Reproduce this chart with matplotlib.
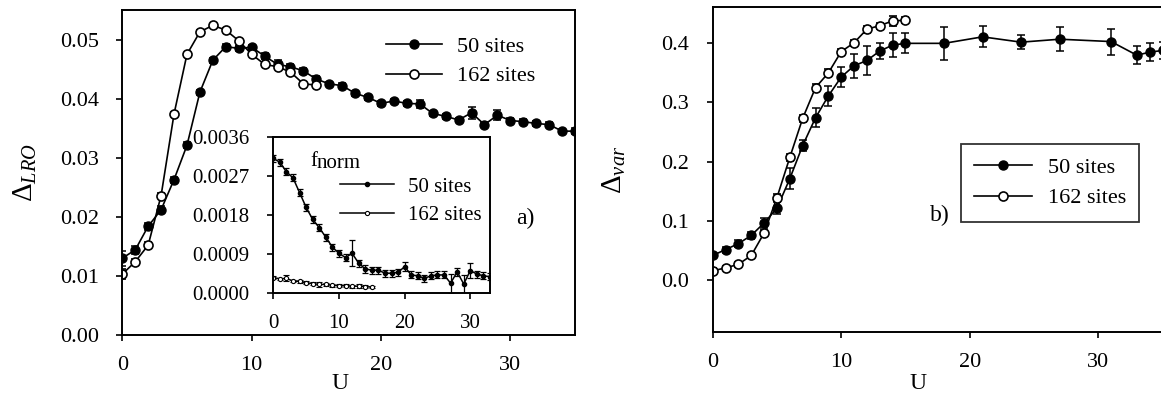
import numpy as np
import matplotlib
matplotlib.use("Agg")
import matplotlib.pyplot as plt

plt.rcParams['font.family'] = ['Liberation Serif', 'DejaVu Serif']
plt.rcParams['mathtext.fontset'] = 'custom'
plt.rcParams['mathtext.rm'] = 'Liberation Serif'
plt.rcParams['mathtext.it'] = 'Liberation Serif:italic'

# panel a) Delta_LRO vs U
u50_a = list(range(36))
lro50 = [0.0130, 0.0144, 0.0184, 0.0212, 0.0263, 0.0321, 0.0411, 0.0465, 0.0488, 0.0485,
         0.0487, 0.0472, 0.0458, 0.0454, 0.0447, 0.0433, 0.0425, 0.0422, 0.0409, 0.0402,
         0.0392, 0.0396, 0.0392, 0.0391, 0.0375, 0.0370, 0.0364, 0.0376, 0.0356, 0.0372,
         0.0363, 0.0361, 0.0358, 0.0356, 0.0345, 0.0345]
lro50_err = [0.0013, 0.0007, 0.0006, 0.0006, 0.0005, 0.0005, 0.0004, 0.0004, 0.0004, 0.0004,
             0.0004, 0.0005, 0.0008, 0.0005, 0.0005, 0.0005, 0.0004, 0.0004, 0.0004, 0.0004,
             0.0004, 0.0004, 0.0004, 0.0006, 0.0004, 0.0004, 0.0004, 0.0010, 0.0004, 0.0008,
             0.0004, 0.0004, 0.0004, 0.0004, 0.0004, 0.0005]
u162_a = list(range(16))
lro162 = [0.0103, 0.0124, 0.0152, 0.0236, 0.0374, 0.0475, 0.0513, 0.0524, 0.0516, 0.0498,
          0.0475, 0.0458, 0.0454, 0.0445, 0.0425, 0.0423]
lro162_err = [0.0008, 0.0005, 0.0005, 0.0004, 0.0003, 0.0003, 0.0003, 0.0003, 0.0003, 0.0003,
              0.0003, 0.0003, 0.0003, 0.0003, 0.0003, 0.0003]

# inset: f_norm vs U
u50_f = list(range(34))
f50 = [0.00310, 0.00301, 0.00279, 0.00265, 0.00231, 0.00197, 0.00169, 0.00150, 0.00128, 0.00105,
       0.00091, 0.00081, 0.00091, 0.00068, 0.00055, 0.00052, 0.00052, 0.00045, 0.00045, 0.00047,
       0.00060, 0.00041, 0.00039, 0.00033, 0.00039, 0.00041, 0.00041, 0.00022, 0.00048, 0.00020,
       0.00051, 0.00043, 0.00039, 0.00037]
f50_err = [0.00008, 0.00008, 0.00008, 0.00008, 0.00008, 0.00008, 0.00008, 0.00008, 0.00008, 0.00008,
           0.00008, 0.00008, 0.00030, 0.00008, 0.00010, 0.00008, 0.00008, 0.00008, 0.00008, 0.00008,
           0.00010, 0.00008, 0.00008, 0.00008, 0.00008, 0.00008, 0.00008, 0.00022, 0.00010, 0.00022,
           0.00018, 0.00008, 0.00008, 0.00008]
u162_f = list(range(16))
f162 = [0.00035, 0.00032, 0.00033, 0.00027, 0.00026, 0.00023, 0.00021, 0.00019, 0.00019, 0.00017,
        0.00016, 0.00016, 0.00015, 0.00015, 0.00014, 0.00013]
f162_err = [0.00003, 0.00003, 0.00007, 0.00003, 0.00003, 0.00003, 0.00003, 0.00005, 0.00003, 0.00003,
            0.00003, 0.00003, 0.00003, 0.00005, 0.00003, 0.00003]

# panel b) Delta_var vs U
u50_b = [0, 1, 2, 3, 4, 5, 6, 7, 8, 9, 10, 11, 12, 13, 14, 15, 18, 21, 24, 27, 31, 33, 34, 35]
var50 = [0.041, 0.051, 0.061, 0.075, 0.096, 0.121, 0.171, 0.227, 0.274, 0.311, 0.343, 0.362,
         0.371, 0.387, 0.397, 0.400, 0.400, 0.411, 0.402, 0.407, 0.403, 0.380, 0.385, 0.388]
var50_err = [0.005, 0.005, 0.006, 0.006, 0.008, 0.010, 0.018, 0.010, 0.016, 0.017, 0.017, 0.020,
             0.024, 0.013, 0.020, 0.017, 0.028, 0.018, 0.012, 0.020, 0.022, 0.015, 0.015, 0.015]
u162_b = list(range(16))
var162 = [0.015, 0.020, 0.026, 0.041, 0.079, 0.139, 0.207, 0.273, 0.325, 0.350, 0.386, 0.401,
          0.424, 0.430, 0.438, 0.439]
var162_err = [0.004, 0.004, 0.004, 0.004, 0.005, 0.006, 0.006, 0.006, 0.006, 0.006, 0.005, 0.005,
              0.006, 0.005, 0.009, 0.005]

W, H = 1161, 394
fig = plt.figure(figsize=(W / 100, H / 100), dpi=100)


def frac(x0, y0, x1, y1):
    return [x0 / W, 1 - y1 / H, (x1 - x0) / W, (y1 - y0) / H]


def style(ax, fs, pad_x, pad_y):
    for s in ax.spines.values():
        s.set_linewidth(1.4)
    ax.tick_params(direction='out', length=4, width=1.2, labelsize=fs, top=False, right=False)
    ax.tick_params(axis='x', pad=pad_x)
    ax.tick_params(axis='y', pad=pad_y)


eb = dict(color='black', lw=1.2, elinewidth=1.1, capsize=3, capthick=1.1)

# ---------- panel a ----------
ax1 = fig.add_axes(frac(122.3, 10, 575, 335))
ax1.errorbar(u50_a, lro50, yerr=lro50_err, fmt='-o', ms=6.5, mfc='black', mec='black',
             label='50 sites', **eb)
ax1.errorbar(u162_a, lro162, yerr=lro162_err, fmt='-o', ms=6.5, mfc='white', mec='black',
             mew=1.2, label='162 sites', **eb)
ax1.set_xlim(0, 35)
ax1.set_ylim(0, 0.055)
ax1.set_xticks([0, 10, 20, 30])
ax1.set_yticks([0.0, 0.01, 0.02, 0.03, 0.04, 0.05])
ax1.set_yticklabels(['0.00', '0.01', '0.02', '0.03', '0.04', '0.05'])
style(ax1, 16, 11, 13)
ax1.set_xlabel('U', fontsize=17)
ax1.xaxis.set_label_coords((340 - 122.3) / 452.7, (335 - 373) / 325)
ax1.set_ylabel(r'$\mathit{\Delta}_{\mathit{LRO}}$', fontsize=21, labelpad=15)
h, l = ax1.get_legend_handles_labels()
h = [x[0] for x in h]
ax1.legend(h, l, loc='upper left', bbox_to_anchor=(386 / W, 1 - 36 / H),
           bbox_transform=fig.transFigure, frameon=False, fontsize=16,
           handlelength=2.5, handletextpad=0.7, borderpad=0, borderaxespad=0,
           labelspacing=0.42)
ax1.text(525, 394 - 218, 'a)', transform=None, fontsize=17, ha='center', va='center')

# ---------- inset ----------
axi = fig.add_axes(frac(273.3, 136.7, 490, 292.7))
axi.errorbar(u50_f, f50, yerr=f50_err, fmt='-o', ms=3, mfc='black', mec='black',
             label='50 sites', color='black', lw=1.1, elinewidth=0.9, capsize=2, capthick=0.9)
axi.errorbar(u162_f, f162, yerr=f162_err, fmt='-o', ms=3, mfc='white', mec='black', mew=0.8,
             label='162 sites', color='black', lw=1.1, elinewidth=0.9, capsize=2, capthick=0.9)
axi.set_xlim(0, 33)
axi.set_ylim(0, 0.0036)
axi.set_xticks([0, 10, 20, 30])
axi.set_yticks([0, 0.0009, 0.0018, 0.0027, 0.0036])
axi.set_yticklabels(['0.0000', '0.0009', '0.0018', '0.0027', '0.0036'])
style(axi, 15, 11, 13)
h, l = axi.get_legend_handles_labels()
h = [x[0] for x in h]
axi.legend(h, l, loc='upper left', bbox_to_anchor=(340 / W, 1 - 177 / H),
           bbox_transform=fig.transFigure, frameon=False, fontsize=15,
           handlelength=2.6, handletextpad=0.65, borderpad=0, borderaxespad=0,
           labelspacing=0.42)
fig.text(310 / W, 1 - 161.7 / H, 'f', fontsize=15, ha='left', va='center')
fig.text(317 / W, 1 - 164 / H, 'norm', fontsize=15, ha='left', va='center')

# ---------- panel b ----------
ax2 = fig.add_axes(frac(712.7, 7.3, 1162.5, 331.7))
ax2.errorbar(u50_b, var50, yerr=var50_err, fmt='-o', ms=6.5, mfc='black', mec='black',
             label='50 sites', **eb)
ax2.errorbar(u162_b, var162, yerr=var162_err, fmt='-o', ms=6.5, mfc='white', mec='black',
             mew=1.2, label='162 sites', **eb)
ax2.set_xlim(0, 35)
ax2.set_ylim(-0.088, 0.461)
ax2.set_xticks([0, 10, 20, 30])
ax2.set_yticks([0.0, 0.1, 0.2, 0.3, 0.4])
style(ax2, 16, 11, 13)
ax2.set_xlabel('U', fontsize=17)
ax2.xaxis.set_label_coords((918 - 712.7) / 449.8, (331.7 - 373) / 324.4)
ax2.set_ylabel(r'$\mathit{\Delta}_{\mathit{var}}$', fontsize=21, labelpad=24)
h, l = ax2.get_legend_handles_labels()
h = [x[0] for x in h]
leg = ax2.legend(h, l, loc='upper left', bbox_to_anchor=(961 / W, 1 - 144 / H),
                 bbox_transform=fig.transFigure, frameon=True, fancybox=False, fontsize=16,
                 handlelength=2.6, handletextpad=0.7, borderpad=0.6, borderaxespad=0,
                 labelspacing=0.45)
leg.get_frame().set_edgecolor('black')
leg.get_frame().set_linewidth(1.3)
ax2.text(940, 394 - 215, 'b)', transform=None, fontsize=17, ha='center', va='center')

fig.savefig('out.png', dpi=100)
